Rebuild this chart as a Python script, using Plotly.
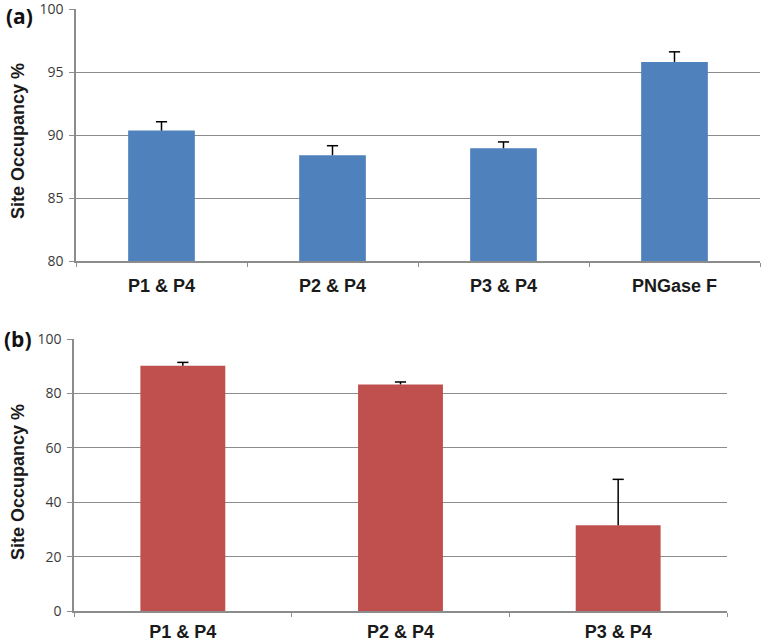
import plotly.graph_objects as go

# ---- data ----
cats_a = ["P1 & P4", "P2 & P4", "P3 & P4", "PNGase F"]
vals_a = [90.35, 88.4, 88.95, 95.8]
err_a = [0.7, 0.75, 0.5, 0.8]

cats_b = ["P1 & P4", "P2 & P4", "P3 & P4"]
vals_b = [90.2, 83.3, 31.5]
err_b = [1.2, 0.9, 16.9]

yticks_a = [80, 85, 90, 95, 100]
yticks_b = [0, 20, 40, 60, 80, 100]

W, H = 761, 641
BLUE = "#4F81BD"
RED = "#C0504D"
GRID = "#8C8C8C"


def px(v):
    return v / W


def py(v):
    return 1 - v / H


fig = go.Figure()


def add_panel(cats, vals, errs, color, xa, ya):
    fig.add_trace(go.Bar(
        x=cats, y=vals, marker=dict(color=color, line=dict(width=0)),
        xaxis=xa, yaxis=ya, showlegend=False, hoverinfo="x+y"))
    tops = [v + e for v, e in zip(vals, errs)]
    # upper-only error bar: stem from bar top to value+err, cap drawn as marker
    fig.add_trace(go.Scatter(
        x=cats, y=tops, mode="markers",
        marker=dict(symbol="line-ew", size=8, line=dict(color="black", width=1.5)),
        error_y=dict(type="data", symmetric=False, array=[0] * len(errs),
                     arrayminus=errs, color="black", thickness=1.5, width=0),
        xaxis=xa, yaxis=ya, showlegend=False, hoverinfo="skip", cliponaxis=False))


add_panel(cats_a, vals_a, err_a, BLUE, "x", "y")
add_panel(cats_b, vals_b, err_b, RED, "x2", "y2")

tickfont_y = dict(family="Open Sans, Liberation Sans, Arial", size=14, color="#3a3a3a")
tickfont_x = dict(family="Liberation Sans, Arial", size=18, color="#1a1a1a", weight="bold")

common_x = dict(type="category", showgrid=False, showline=True, linecolor=GRID,
                linewidth=1.5, ticks="outside", ticklen=4, tickcolor=GRID,
                tickson="boundaries", tickfont=tickfont_x,
                fixedrange=True, automargin=False, ticklabeloverflow="allow")
common_y = dict(showgrid=True, gridcolor=GRID, gridwidth=1.2, showline=True,
                linecolor=GRID, linewidth=1.5, ticks="outside", ticklen=5,
                tickcolor=GRID, tickfont=tickfont_y, zeroline=False,
                ticklabelstandoff=3, automargin=False, fixedrange=True,
                ticklabeloverflow="allow")

fig.update_layout(
    width=W, height=H,
    margin=dict(l=0, r=0, t=0, b=0, pad=0),
    paper_bgcolor="white", plot_bgcolor="white",
    bargap=0.61,
    xaxis=dict(domain=[px(76), px(760)], anchor="y", ticklabelstandoff=8, **common_x),
    yaxis=dict(domain=[py(261), py(9)], anchor="x", range=[80, 100],
               tickvals=yticks_a, **common_y),
    xaxis2=dict(domain=[px(74), px(727)], anchor="y2", ticklabelstandoff=4, **common_x),
    yaxis2=dict(domain=[py(611), py(339)], anchor="x2", range=[0, 100],
                tickvals=yticks_b, **common_y),
    font=dict(family="Liberation Sans, Arial"),
)

title_font = dict(family="Liberation Sans, Arial", size=18, color="#1a1a1a")
label_font = dict(family="Open Sans, Liberation Sans, Arial", size=21, color="#111111")
fig.add_annotation(text="<b>Site Occupancy %</b>", textangle=-90, xref="paper", yref="paper",
                   x=px(18), y=py(141), showarrow=False, font=title_font,
                   xanchor="center", yanchor="middle")
fig.add_annotation(text="<b>Site Occupancy %</b>", textangle=-90, xref="paper", yref="paper",
                   x=px(18), y=py(482), showarrow=False, font=title_font,
                   xanchor="center", yanchor="middle")
fig.add_annotation(text="<b>(a)</b>", xref="paper", yref="paper",
                   x=px(19), y=py(0), showarrow=False, font=label_font,
                   xanchor="center", yanchor="top")
fig.add_annotation(text="<b>(b)</b>", xref="paper", yref="paper",
                   x=px(18), y=py(339), showarrow=False, font=label_font,
                   xanchor="center", yanchor="middle")

fig.write_html("out.html",
               config={"displayModeBar": False},
               post_script="document.body.style.margin='0';document.body.style.padding='0';")
